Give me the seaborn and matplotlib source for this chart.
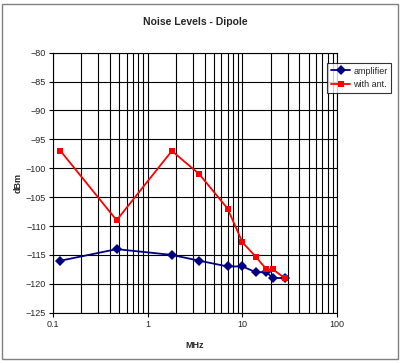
import matplotlib
matplotlib.use("Agg")
import matplotlib.pyplot as plt
import matplotlib.ticker as mticker
from matplotlib.patches import Rectangle
import pandas as pd
import seaborn as sns

# Data
freq_mhz = [0.12, 0.47, 1.8, 3.5, 7.0, 10.0, 14.0, 18.0, 21.0, 28.0]
amplifier = [-116, -114, -115, -116, -117, -117, -118, -118, -119, -119]
with_ant = [-97, -109, -97, -101, -107, -112.8, -115.4, -117.5, -117.5, -119]
series_names = ["amplifier", "with ant."]
y_ticks = [-80, -85, -90, -95, -100, -105, -110, -115, -120, -125]
x_ticks = [0.1, 1, 10, 100]
x_tick_labels = ["0.1", "1", "10", "100"]

df = pd.DataFrame({
    "MHz": freq_mhz * 2,
    "dBm": amplifier + with_ant,
    "series": [series_names[0]] * len(freq_mhz) + [series_names[1]] * len(freq_mhz),
})

sns.set_style("white")
plt.rcParams["font.family"] = ["Liberation Sans", "DejaVu Sans"]

fig = plt.figure(figsize=(4, 3.63), dpi=100)
ax = fig.add_axes([0.1325, 0.1386, 0.71, 0.7162])

sns.lineplot(data=df, x="MHz", y="dBm", hue="series", style="series",
             palette={"amplifier": "#000080", "with ant.": "#ff0000"},
             markers={"amplifier": "D", "with ant.": "s"},
             dashes=False, markersize=5, markeredgewidth=0, linewidth=1.3,
             ax=ax, legend=True)

ax.set_xscale("log")
ax.set_xlim(0.1, 100)
ax.set_ylim(-125, -80)
ax.set_yticks(y_ticks)
ax.set_xticks(x_ticks)
ax.set_xticklabels(x_tick_labels)
ax.xaxis.set_minor_locator(mticker.LogLocator(base=10, subs=range(2, 10)))
ax.xaxis.set_minor_formatter(mticker.NullFormatter())
ax.grid(True, which="both", axis="x", color="black", linewidth=0.8)
ax.grid(True, which="major", axis="y", color="black", linewidth=0.8)
for s in ax.spines.values():
    s.set_color("black")
    s.set_linewidth(0.8)
ax.tick_params(axis="both", which="major", labelsize=6.5, length=3, color="black",
               direction="out", bottom=True, left=True, pad=2)
ax.tick_params(axis="x", which="minor", length=0)

ax.set_xlabel("MHz", fontsize=6.5, fontweight="bold", labelpad=9)
ax.set_ylabel("dBm", fontsize=6.5, fontweight="bold", labelpad=2)
ax.set_title("Noise Levels - Dipole", fontsize=7.5, fontweight="bold", pad=20)

handles, labels = ax.get_legend_handles_labels()
leg = ax.legend(handles, labels, loc="upper left", bbox_to_anchor=(327 / 400, 1 - 63 / 363),
                bbox_transform=fig.transFigure, fontsize=6.5, frameon=True,
                fancybox=False, edgecolor="black", borderpad=0.4, borderaxespad=0,
                handlelength=2.2, handletextpad=0.3, labelspacing=0.5)
leg.get_frame().set_linewidth(0.8)

# outer chart border
fig.patches.append(Rectangle((0.005, 0.012), 0.99, 0.976, transform=fig.transFigure,
                             fill=False, edgecolor="#808080", linewidth=1))

fig.savefig("out.png", dpi=100)
